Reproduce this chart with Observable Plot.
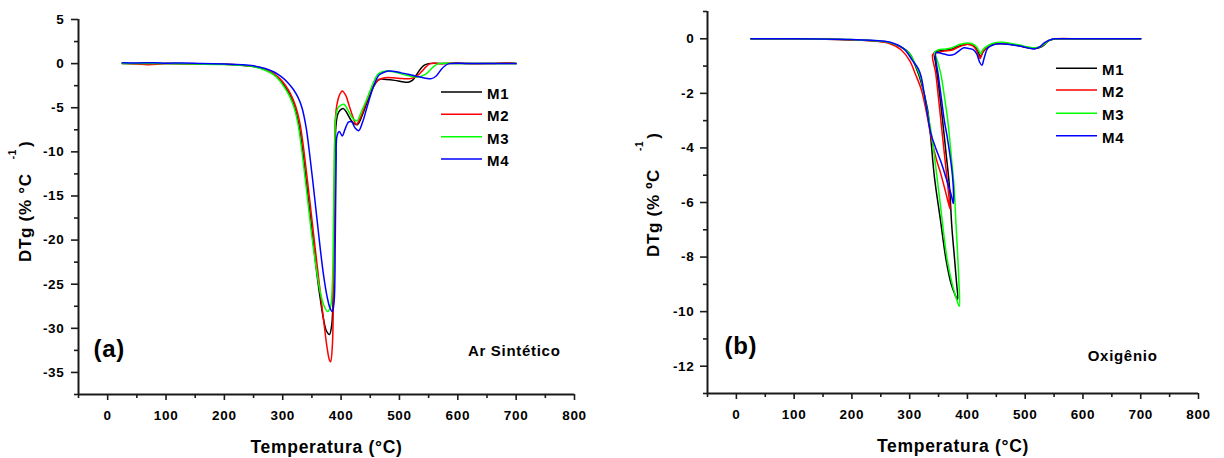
<!DOCTYPE html>
<html><head><meta charset="utf-8">
<script src="https://cdn.jsdelivr.net/npm/d3@7"></script>
<script src="https://cdn.jsdelivr.net/npm/@observablehq/plot@0.6"></script>
<style>
body{margin:0;background:#fff;width:1224px;height:458px;overflow:hidden;position:relative;font-family:"Liberation Sans",Arial,sans-serif;}
#pa,#pb{position:absolute;top:0;}
#pa{left:0;} #pb{left:612px;}
svg text{letter-spacing:0.7px;font-weight:bold;}
g[aria-label="x-axis tick label"] text, g[aria-label="y-axis tick label"] text{font-size:13.5px;font-weight:bold;letter-spacing:0.7px;fill:#000;}
</style></head><body><div id="pa"></div><div id="pb"></div>
<script>
const seriesNames = ["M1","M2","M3","M4"];
const seriesColors = ["#000000","#ff0000","#00ff00","#0000ff"];
const xTicksMajor = [0,100,200,300,400,500,600,700,800];
const xTicksMinor = [-50,50,150,250,350,450,550,650,750];
const yTicksMajorA = [-35,-30,-25,-20,-15,-10,-5,0,5];
const yTicksMinorA = [-37.5,-32.5,-27.5,-22.5,-17.5,-12.5,-7.5,-2.5,2.5];
const yTicksMajorB = [-12,-10,-8,-6,-4,-2,0];
const yTicksMinorB = [-13,-11,-9,-7,-5,-3,-1,1];

// Panel (a) - Ar Sintético
const tempA_M1 = [25,60,100,150,200,230,250,270,284,294,303,312,320,327,333,339,345,351,357,364,370,375,380,384,387,389,391,394,398,404,410,416,422,428,436,445,455,465,478,492,505,515,522,528,535,542,550,580,640,700];
const dtgA_M1  = [0,0.02,0,-0.03,-0.08,-0.18,-0.32,-0.7,-1.15,-1.75,-2.55,-3.55,-4.85,-6.7,-9.3,-12.6,-16.0,-19.5,-23.0,-26.5,-29.0,-30.3,-30.7,-29.6,-24,-13,-7.2,-5.8,-5.3,-5.1,-5.6,-6.3,-6.8,-6.9,-5.9,-4.3,-2.7,-1.8,-1.8,-1.9,-2.05,-2.1,-1.9,-1.4,-0.7,-0.2,0,0,0,0];
const tempA_M2 = [25,50,70,100,150,200,230,250,270,284,295,305,314,322,329,335,341,347,353,359,365,371,376,380,382,385,387,388.5,390,393,397,402,408,414,420,426,434,444,454,463,475,490,505,519,530,538,545,553,575,600,615,650,690,700];
const dtgA_M2  = [0.05,-0.05,-0.12,0,-0.03,-0.08,-0.18,-0.3,-0.65,-1.1,-1.7,-2.5,-3.5,-4.8,-6.6,-9.2,-12.5,-15.9,-19.4,-22.9,-26.3,-29.6,-32.2,-33.6,-33.8,-32,-25,-14,-6.5,-4.6,-3.6,-3.1,-3.6,-4.8,-6.0,-6.9,-6.0,-4.2,-2.6,-1.9,-1.6,-1.6,-1.7,-1.7,-1.4,-0.9,-0.4,0,0,0.1,0,0,0.1,0];
const tempA_M3 = [25,100,150,200,230,250,270,283,293,302,311,319,326,332,338,344,350,357,364,371,377,382,385,387,389,391,395,400,405,412,420,427,435,445,455,463,472,485,500,515,525,536,545,553,560,567,600,700];
const dtgA_M3  = [0,0,-0.03,-0.1,-0.2,-0.35,-0.75,-1.2,-1.8,-2.6,-3.6,-4.9,-6.8,-9.5,-12.8,-16.2,-19.6,-23.0,-25.8,-27.5,-28.1,-27.5,-25,-18,-9,-6.0,-5.0,-4.7,-4.6,-5.3,-6.2,-6.5,-5.4,-3.9,-2.2,-1.2,-0.9,-0.87,-1.1,-1.35,-1.5,-1.45,-1.2,-0.7,-0.25,0,0,0];
const tempA_M4 = [25,50,80,100,130,160,200,230,250,270,285,298,308,318,326,333,340,346,352,358,364,370,376,381,385,388,390,391.5,393,397,402,407,413,418,424,430,437,445,455,465,475,482,492,503,515,530,545,555,563,570,577,585,620,700];
const dtgA_M4  = [0.1,0.08,0.1,0.05,0.08,0.02,-0.05,-0.12,-0.25,-0.55,-0.95,-1.5,-2.1,-2.9,-3.8,-5.0,-7.2,-10.2,-13.6,-17.2,-20.8,-24.0,-26.4,-27.7,-28.1,-27,-20,-11,-8.2,-7.7,-8.2,-7.4,-6.6,-6.6,-7.3,-7.6,-6.6,-4.8,-2.7,-1.3,-0.95,-0.85,-0.9,-1.05,-1.2,-1.45,-1.65,-1.7,-1.4,-0.8,-0.3,0,0,0];

// Panel (b) - Oxigênio
const tempB_M1 = [25,100,200,240,265,285,300,310,320,331,343,353,363,372,378,383,381,377,373,369,363,357,350,345,343,350,360,372,385,400,410,416,420,423,426,432,440,450,460,475,490,505,516,525,533,540,548,556,600,700];
const dtgB_M1  = [0,0,-0.04,-0.08,-0.15,-0.3,-0.55,-1.0,-1.6,-2.6,-5.1,-6.6,-8.1,-9.0,-9.35,-9.55,-8.9,-7.9,-6.9,-5.45,-4.2,-3.0,-1.7,-0.9,-0.5,-0.45,-0.42,-0.38,-0.27,-0.2,-0.25,-0.38,-0.55,-0.66,-0.52,-0.35,-0.24,-0.18,-0.17,-0.2,-0.26,-0.33,-0.36,-0.32,-0.22,-0.08,-0.02,0,0,0];
const tempB_M2 = [25,100,200,240,265,285,300,310,320,330,337,346,354,362,368,370,368,364,360,355,350,345,340,350,360,372,385,400,410,415,419,422,425,430,438,448,460,475,490,505,516,525,533,540,548,553,600,700];
const dtgB_M2  = [0,0,-0.04,-0.08,-0.17,-0.4,-0.8,-1.3,-1.85,-2.8,-3.6,-4.4,-4.96,-5.6,-6.1,-6.24,-5.8,-5.0,-4.2,-3.2,-2.2,-1.25,-0.57,-0.5,-0.45,-0.42,-0.3,-0.2,-0.27,-0.4,-0.6,-0.72,-0.55,-0.38,-0.25,-0.18,-0.17,-0.2,-0.26,-0.32,-0.34,-0.3,-0.2,-0.07,-0.02,0,0,0];
const tempB_M3 = [25,100,200,240,265,285,300,310,320,328,337,351,365,375,382,386,385,383,380,377,372,366,360,354,348,343,350,360,372,385,400,410,416,420,423,426,432,440,450,460,475,490,505,516,525,533,540,548,556,600,700];
const dtgB_M3  = [0,0,-0.03,-0.07,-0.14,-0.3,-0.55,-0.95,-1.5,-2.4,-3.4,-5.7,-8.1,-9.1,-9.6,-9.8,-8.8,-7.9,-6.7,-5.45,-4.3,-3.0,-2.1,-1.3,-0.8,-0.5,-0.4,-0.38,-0.34,-0.22,-0.15,-0.2,-0.3,-0.45,-0.55,-0.42,-0.3,-0.2,-0.14,-0.13,-0.17,-0.23,-0.3,-0.33,-0.3,-0.2,-0.07,-0.02,0,0,0];
const tempB_M4 = [25,100,200,240,265,290,305,315,320,325,331,337,345,354,363,371.6,375.6,376,374,370,365,360,355,350,345.6,352,360,368,377,385,394,403,410,416,421,425,429,435,445,455,470,485,498,508,516,525,533,542,551,560,600,700];
const dtgB_M4  = [0,0,-0.03,-0.06,-0.12,-0.37,-0.8,-1.1,-1.4,-2.0,-2.8,-3.5,-4.0,-4.5,-5.1,-5.7,-6.04,-5.7,-5.0,-4.3,-3.6,-3.0,-2.2,-1.4,-0.5,-0.52,-0.56,-0.6,-0.57,-0.45,-0.33,-0.36,-0.4,-0.55,-0.85,-0.97,-0.7,-0.35,-0.22,-0.18,-0.2,-0.25,-0.3,-0.35,-0.37,-0.3,-0.15,-0.05,0,0,0,0];

function rowsOf(temps, dtgs, name){ return temps.map((t,i)=>({series:name, temp:t, dtg:dtgs[i]})); }
const dataA = [rowsOf(tempA_M1,dtgA_M1,"M1"),rowsOf(tempA_M2,dtgA_M2,"M2"),rowsOf(tempA_M3,dtgA_M3,"M3"),rowsOf(tempA_M4,dtgA_M4,"M4")].flat();
const dataB = [rowsOf(tempB_M1,dtgB_M1,"M1"),rowsOf(tempB_M2,dtgB_M2,"M2"),rowsOf(tempB_M3,dtgB_M3,"M3"),rowsOf(tempB_M4,dtgB_M4,"M4")].flat();

const axisColor = "#1a1a1a";
function panel(o){
  return Plot.plot({
    width:612, height:458,
    marginLeft:o.ml, marginRight:o.mr, marginTop:o.mt, marginBottom:o.mb,
    x:{domain:[-50,800]}, y:{domain:o.yDomain},
    color:{domain:seriesNames, range:seriesColors},
    style:{fontFamily:'"Liberation Sans", Arial, sans-serif', fontSize:"13px", fontWeight:"bold", color:"#000", background:"transparent", overflow:"visible"},
    marks:[
      Plot.axisX({ticks:xTicksMajor, tickSize:6, tickPadding:10, tickFormat:d=>String(d), label:null, stroke:axisColor, strokeWidth:1.6}),
      Plot.axisX({ticks:xTicksMinor, tickSize:4, tickFormat:()=>"", label:null, stroke:axisColor, strokeWidth:1.6}),
      Plot.axisY({ticks:o.yMajor, tickSize:7, tickPadding:o.yPad, tickFormat:d=>String(d), label:null, stroke:axisColor, strokeWidth:1.6}),
      Plot.axisY({ticks:o.yMinor, tickSize:4, tickFormat:()=>"", label:null, stroke:axisColor, strokeWidth:1.6}),
      Plot.ruleX([-50],{stroke:axisColor, strokeWidth:2}),
      Plot.ruleY([o.yDomain[0]],{stroke:axisColor, strokeWidth:2}),
      Plot.line(o.data,{x:"temp", y:"dtg", z:"series", stroke:"series", strokeWidth:1.5, curve:"catmull-rom"}),
      Plot.text([o.panelLabel],{text:d=>d, frameAnchor:"bottom-left", textAnchor:"start", dx:o.plDx, dy:o.plDy, fontSize:24, fontWeight:"bold"}),
      Plot.text([o.gasLabel],{text:d=>d, frameAnchor:"bottom-right", textAnchor:"end", dx:o.gDx, dy:o.gDy, fontSize:15, fontWeight:"bold"}),
      Plot.text(["Temperatura (°C)"],{text:d=>d, frameAnchor:"bottom", dy:58, fontSize:17.5, fontWeight:"bold"})
    ]
  });
}

const plotA = panel({ml:78, mr:38, mt:19, mb:64, yDomain:[-37.5,5], yMajor:yTicksMajorA, yMinor:yTicksMinorA, yPad:7, data:dataA,
  panelLabel:"(a)", plDx:15, plDy:-38, gasLabel:"Ar Sintético", gDx:-14, gDy:-39});
const plotB = panel({ml:95, mr:26, mt:11, mb:65, yDomain:[-13,1], yMajor:yTicksMajorB, yMinor:yTicksMinorB, yPad:6, data:dataB,
  panelLabel:"(b)", plDx:17, plDy:-40, gasLabel:"Oxigênio", gDx:-41, gDy:-33});
document.getElementById("pa").appendChild(plotA);
document.getElementById("pb").appendChild(plotB);

function yLabel(svg, x, y, degree, gap, rise){
  const t = d3.select(svg).append("text")
    .attr("transform",`translate(${x},${y}) rotate(-90)`)
    .attr("text-anchor","start")
    .attr("font-size",17).attr("font-weight","bold").attr("fill","#000");
  t.append("tspan").text("DTg (% " + degree + "C");
  t.append("tspan").attr("dx",gap).attr("dy",-rise).attr("font-size",10).text("-1");
  t.append("tspan").attr("dx",2).attr("dy",rise).text(")");
}
yLabel(plotA, 31, 262, "°", 14, 15);
yLabel(plotB, 47, 257, "º", 18, 16);

function legend(svg, x0, ys){
  const g = d3.select(svg).append("g").attr("text-anchor","start");
  seriesNames.forEach((name,i)=>{
    g.append("line").attr("x1",x0).attr("x2",x0+41).attr("y1",ys[i]).attr("y2",ys[i])
      .attr("stroke",seriesColors[i]).attr("stroke-width",1.5);
    g.append("text").attr("x",x0+46).attr("y",ys[i]+1.5).attr("dominant-baseline","central")
      .attr("font-size",15).attr("font-weight","bold").attr("fill","#000").text(name);
  });
}
legend(plotA, 441, [92,114.3,136.7,159]);
legend(plotB, 444, [68.3,90,113.3,135.7]);
</script></body></html>
